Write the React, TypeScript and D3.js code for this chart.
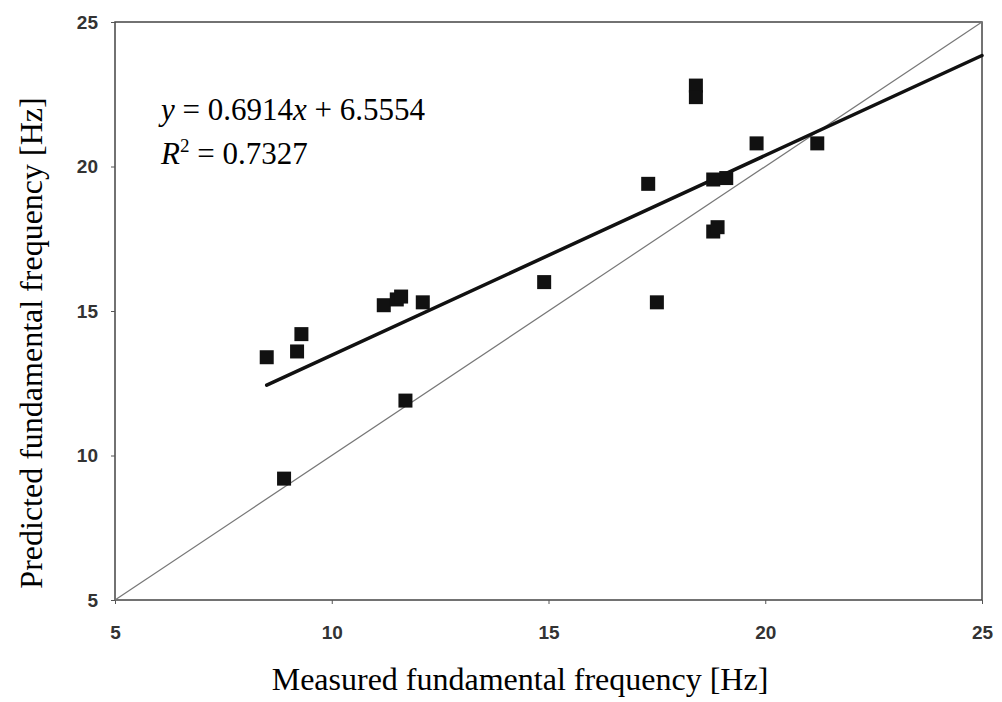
import * as d3 from "d3";
import { useRef, useEffect } from "react";

// measured vs predicted fundamental frequency [Hz]
const measured = [8.5, 8.9, 9.2, 9.3, 11.2, 11.5, 11.6, 11.7, 12.1, 14.9, 17.3, 17.5, 18.4, 18.4, 18.8, 19.1, 18.8, 18.9, 19.8, 21.2];
const predicted = [13.4, 9.2, 13.6, 14.2, 15.2, 15.4, 15.5, 11.9, 15.3, 16.0, 19.4, 15.3, 22.8, 22.4, 19.55, 19.6, 17.75, 17.9, 20.8, 20.8];
const ticks = [5, 10, 15, 20, 25];
const slope = 0.6914;
const intercept = 6.5554;
const fitRange = [8.5, 25];

export default function App() {
  const svgRef = useRef<SVGSVGElement>(null);

  useEffect(() => {
    document.body.style.margin = "0";
    const svg = d3.select(svgRef.current);
    svg.selectAll("*").remove();

    const x = d3.scaleLinear().domain([5, 25]).range([115, 982]);
    const y = d3.scaleLinear().domain([5, 25]).range([600, 22]);

    const tickFont = "'Liberation Sans', Arial, sans-serif";
    const serif = "'Liberation Serif', 'Times New Roman', serif";

    // frame
    svg.append("rect")
      .attr("x", x(5)).attr("y", y(25))
      .attr("width", x(25) - x(5)).attr("height", y(5) - y(25))
      .attr("fill", "white").attr("stroke", "#444").attr("stroke-width", 1.5);

    const xAxis = svg.append("g")
      .attr("transform", `translate(0,${y(5)})`)
      .call(d3.axisBottom(x).tickValues(ticks).tickSize(4).tickPadding(22).tickFormat(d3.format("d")));
    xAxis.select(".domain").remove();
    xAxis.selectAll("line").attr("stroke", "#555");
    xAxis.selectAll("text")
      .attr("font-family", tickFont).attr("font-size", 19).attr("font-weight", "bold").attr("fill", "#333");

    const yAxis = svg.append("g")
      .attr("transform", `translate(${x(5)},0)`)
      .call(d3.axisLeft(y).tickValues(ticks).tickSize(4).tickPadding(13).tickFormat(d3.format("d")));
    yAxis.select(".domain").remove();
    yAxis.selectAll("line").attr("stroke", "#555");
    yAxis.selectAll("text")
      .attr("font-family", tickFont).attr("font-size", 19).attr("font-weight", "bold").attr("fill", "#333");

    // 1:1 line
    svg.append("line")
      .attr("x1", x(5)).attr("y1", y(5)).attr("x2", x(25)).attr("y2", y(25))
      .attr("stroke", "#777").attr("stroke-width", 1.2);

    // regression line
    const fit = d3.line<number>().x((d) => x(d)).y((d) => y(slope * d + intercept));
    svg.append("path")
      .attr("d", fit(fitRange))
      .attr("fill", "none").attr("stroke", "#111").attr("stroke-width", 3.5).attr("stroke-linecap", "round");

    // points
    const s = 14;
    svg.append("g")
      .selectAll("rect")
      .data(measured)
      .join("rect")
      .attr("x", (d) => x(d) - s / 2)
      .attr("y", (d, i) => y(predicted[i]) - s / 2)
      .attr("width", s).attr("height", s)
      .attr("fill", "#111");

    // equation
    const eq = svg.append("text")
      .attr("x", 161).attr("y", 120)
      .attr("font-family", serif).attr("font-size", 31).attr("fill", "#000");
    eq.append("tspan").attr("font-style", "italic").text("y");
    eq.append("tspan").text(" = 0.6914");
    eq.append("tspan").attr("font-style", "italic").text("x");
    eq.append("tspan").text(" + 6.5554");

    const r2 = svg.append("text")
      .attr("x", 161).attr("y", 164)
      .attr("font-family", serif).attr("font-size", 31).attr("fill", "#000");
    r2.append("tspan").attr("font-style", "italic").text("R");
    r2.append("tspan").attr("font-size", 19).attr("dy", -12).text("2");
    r2.append("tspan").attr("dy", 12).text(" = 0.7327");

    // axis titles
    svg.append("text")
      .attr("x", 520).attr("y", 690)
      .attr("text-anchor", "middle")
      .attr("font-family", serif).attr("font-size", 32).attr("fill", "#000")
      .text("Measured fundamental frequency [Hz]");

    svg.append("text")
      .attr("transform", `translate(42,343) rotate(-90)`)
      .attr("text-anchor", "middle")
      .attr("font-family", serif).attr("font-size", 32).attr("fill", "#000")
      .text("Predicted fundamental frequency [Hz]");
  }, []);

  return <svg ref={svgRef} width={1002} height={702} style={{ display: "block", background: "white" }} />;
}
